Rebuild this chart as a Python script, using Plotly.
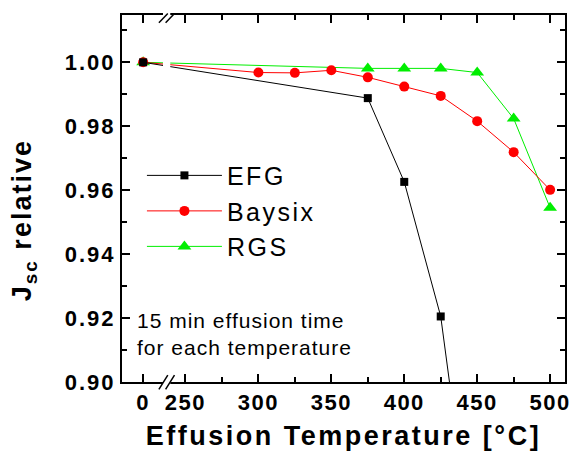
import numpy as np
import plotly.graph_objects as go

# ---- data ----
BREAK_POS = 221  # axis position used for the "0" (untreated) point on the broken axis
efg_t = [0, 375, 400, 425, 450]
efg_v = [1.000, 0.9888, 0.9626, 0.9205, 0.835]
bay_t = [0, 300, 325, 350, 375, 400, 425, 450, 475, 500]
bay_v = [1.000, 0.9968, 0.9967, 0.9975, 0.9953, 0.9924, 0.9895, 0.9816, 0.9719, 0.9601]
rgs_t = [0, 375, 400, 425, 450, 475, 500]
rgs_v = [1.000, 0.9981, 0.9981, 0.9981, 0.9968, 0.9824, 0.9545]

x_tickvals = [0, 250, 300, 350, 400, 450, 500]
x_ticktext = ["0", "250", "300", "350", "400", "450", "500"]
x_minor = [275, 325, 375, 425, 475]
y_tickvals = [0.90, 0.92, 0.94, 0.96, 0.98, 1.00]


def xmap(t):
    t = np.asarray(t, dtype=float)
    return np.where(t == 0, BREAK_POS, t)


FONT = "Liberation Sans, Arial, sans-serif"

fig = go.Figure()
fig.add_trace(go.Scatter(x=xmap(rgs_t), y=rgs_v, name="RGS", mode="lines+markers",
                         line=dict(color="#00ee00", width=1),
                         marker=dict(symbol="triangle-up", size=12, color="#00ee00")))
fig.add_trace(go.Scatter(x=xmap(bay_t), y=bay_v, name="Baysix", mode="lines+markers",
                         line=dict(color="#ff0000", width=1),
                         marker=dict(symbol="circle", size=10, color="#ff0000")))
fig.add_trace(go.Scatter(x=xmap(efg_t), y=efg_v, name="EFG", mode="lines+markers",
                         line=dict(color="black", width=1),
                         marker=dict(symbol="square", size=8, color="black")))

axis_common = dict(showline=True, linecolor="black", linewidth=2, mirror="allticks",
                   ticks="inside", ticklen=8, tickwidth=1.5, tickcolor="black",
                   showgrid=False, zeroline=False,
                   tickfont=dict(family=FONT, size=22, color="black", weight="bold"))

fig.update_xaxes(range=[206.5, 510.2], tickmode="array",
                 tickvals=xmap(x_tickvals), ticktext=x_ticktext,
                 minor=dict(tickvals=x_minor, ticks="inside", ticklen=5, tickwidth=1.5, tickcolor="black"),
                 title=dict(text="Effusion Temperature [°C]", standoff=12,
                            font=dict(family=FONT, size=27, color="black", weight="bold")),
                 **axis_common)
fig.update_yaxes(range=[0.9, 1.0148], tickmode="array", tickvals=y_tickvals,
                 ticktext=[f"{v:.2f}" for v in y_tickvals],
                 minor=dict(dtick=0.01, ticks="inside", ticklen=5, tickwidth=1.5, tickcolor="black"),
                 **axis_common)

shapes = []
# white gaps for the axis break (on axis lines and on the data lines)
for y0, y1 in [(-0.01, 0.01), (0.99, 1.01)]:
    shapes.append(dict(type="rect", xref="x", yref="paper", x0=234.6, x1=239.6, y0=y0, y1=y1,
                       fillcolor="white", line=dict(width=0), layer="above"))
shapes.append(dict(type="rect", xref="x", yref="y", x0=234.6, x1=239.6, y0=0.9965, y1=1.002,
                   fillcolor="white", line=dict(width=0), layer="above"))
# "//" break marks
for xa, xb in [(231.8, 237.9), (236.4, 242.5)]:
    shapes.append(dict(type="line", xref="x", yref="paper", x0=xa, x1=xb, y0=0.979, y1=1.004,
                       line=dict(color="black", width=1.5), layer="above"))
    shapes.append(dict(type="line", xref="x", yref="paper", x0=xa, x1=xb, y0=-0.02, y1=0.019,
                       line=dict(color="black", width=1.5), layer="above"))

annotations = [
    dict(text="J<sub>sc</sub> relative", textangle=-90, xref="paper", yref="paper",
         x=-0.222, y=0.44, xanchor="center", yanchor="middle", showarrow=False,
         font=dict(family=FONT, size=27, color="black", weight="bold")),
    dict(text="15 min effusion time<br>for each temperature", xref="paper", yref="paper",
         x=0.03, y=0.13, xanchor="left", yanchor="middle", align="left", showarrow=False,
         font=dict(family=FONT, size=21, color="black")),
]

fig.update_layout(width=576, height=455, margin=dict(l=122, r=8, t=15, b=73),
                  plot_bgcolor="white", paper_bgcolor="white",
                  shapes=shapes, annotations=annotations,
                  legend=dict(x=0.045, y=0.625, xanchor="left", yanchor="top",
                              traceorder="reversed",
                              bgcolor="rgba(0,0,0,0)", itemwidth=75, tracegroupgap=0,
                              font=dict(family=FONT, size=25, color="black")),
                  showlegend=True)

# emulate the wide letter spacing of the original figure's lettering
post_js = """
(function(){
  var gd = document.getElementById('{plot_id}');
  function ls(){
    var rules = [['.xtick text','1.5px'],['.ytick text','2px'],['.g-xtitle text','2.5px'],
                 ['.legendtext','2.5px'],['.annotation[data-index="0"] text','2px'],
                 ['.annotation[data-index="1"] text','1px']];
    rules.forEach(function(r){
      gd.querySelectorAll(r[0]).forEach(function(t){ t.style.letterSpacing = r[1]; });
    });
    gd.querySelectorAll('.legend .scrollbox, .legend').forEach(function(el){
      el.removeAttribute('clip-path');
    });
  }
  ls();
  if (gd.on) { gd.on('plotly_afterplot', ls); }
})();
"""
fig.write_html("out.html", post_script=post_js)
